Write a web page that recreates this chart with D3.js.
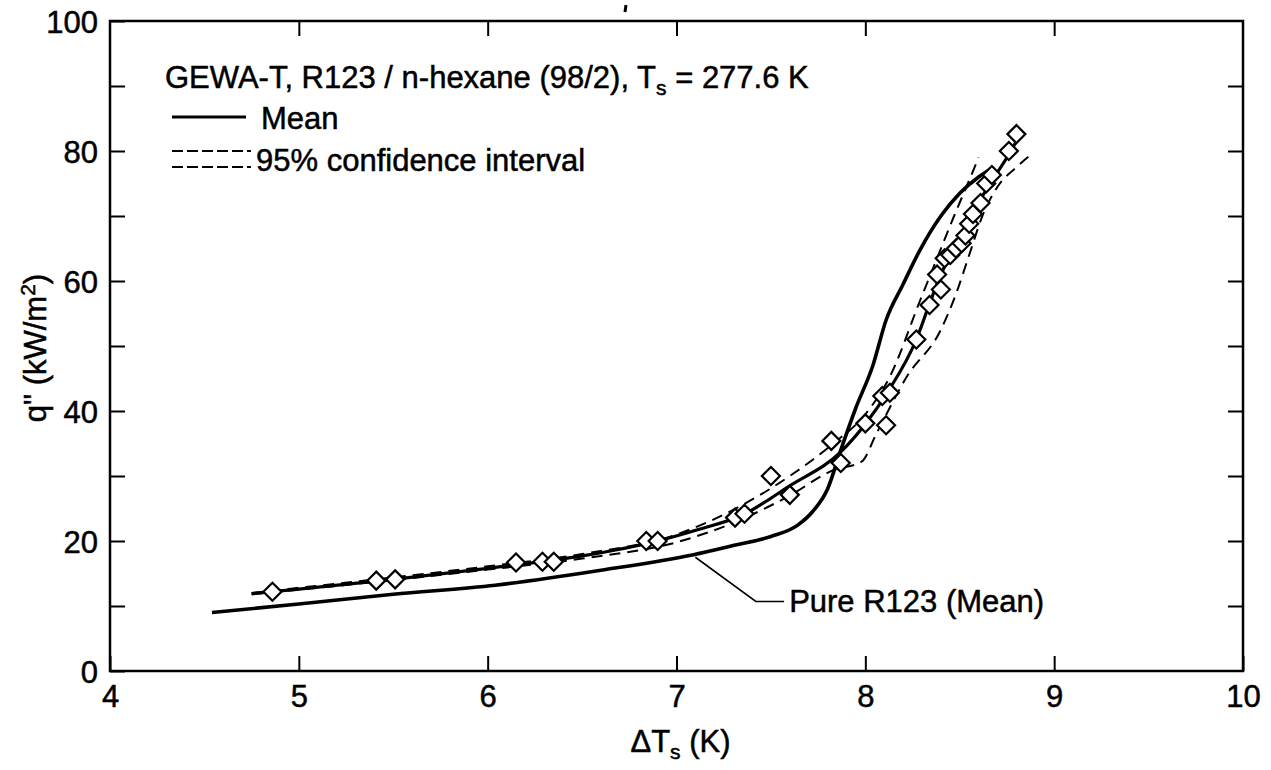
<!DOCTYPE html>
<html><head><meta charset="utf-8">
<script src="https://cdnjs.cloudflare.com/ajax/libs/d3/7.8.5/d3.min.js"></script>
<style>
html,body{margin:0;padding:0;background:#fff;}
svg text{font-family:"Liberation Sans",Arial,Helvetica,sans-serif;fill:#000;stroke:#000;stroke-width:0.5px;}
</style></head>
<body><svg id="c" width="1271" height="770"></svg>
<script>
// ---- data ----
const xTicks = [4,5,6,7,8,9,10];
const yTicks = [0,20,40,60,80,100];
const yMinor = [10,30,50,70,90];
const meanCurve = [[4.75,11.9],[5.0,12.6],[5.5,14.1],[6.0,15.8],[6.5,17.7],[6.9,20.0],[7.12,21.8],[7.35,24.0],[7.6,28.5],[7.87,33.7],[8.0,38.0],[8.12,43.0],[8.27,51.0],[8.34,56.5],[8.4,61.0],[8.47,65.0],[8.55,69.5],[8.65,74.5],[8.75,79.0],[8.82,82.5]];
const ciUpper = [[4.75,12.0],[5.0,12.8],[5.5,14.4],[6.0,16.1],[6.5,18.0],[7.0,21.0],[7.34,25.4],[7.6,30.0],[7.83,35.0],[8.0,39.5],[8.13,45.3],[8.29,57.0],[8.38,63.5],[8.47,70.0],[8.55,75.5],[8.6,79.0]];
const ciLower = [[4.75,11.8],[5.0,12.5],[5.5,14.0],[6.0,15.6],[6.5,17.3],[7.0,19.8],[7.35,23.4],[7.6,27.0],[7.83,30.9],[7.98,32.2],[8.06,36.6],[8.22,45.3],[8.4,52.5],[8.48,58.0],[8.55,64.0],[8.62,70.0],[8.7,74.5],[8.8,77.5],[8.88,79.5]];
const pureR123 = [[4.54,9.0],[5.0,10.3],[5.5,11.8],[6.04,13.2],[6.6,15.5],[7.09,17.9],[7.3,19.3],[7.5,20.7],[7.64,22.4],[7.72,24.5],[7.8,28.0],[7.87,34.0],[7.95,40.5],[8.04,47.0],[8.11,54.0],[8.2,59.5],[8.29,64.8],[8.4,70.0],[8.5,73.5],[8.6,76.0],[8.68,77.5]];
const pointsX = [4.86,5.41,5.51,6.15,6.29,6.35,6.84,6.90,7.31,7.36,7.50,7.60,7.82,7.87,8.00,8.09,8.13,8.11,8.27,8.34,8.38,8.40,8.42,8.45,8.48,8.51,8.53,8.55,8.57,8.61,8.64,8.67,8.76,8.80];
const pointsY = [12.2,13.9,14.1,16.7,16.8,16.8,20.0,20.0,23.6,24.2,30.0,27.1,35.4,32.0,38.1,42.3,42.8,37.8,51.0,56.3,61.0,58.7,63.5,64.0,65.0,65.8,67.0,68.8,70.3,72.0,75.0,76.3,80.0,82.6];
const annotLeader = [[7.10,17.5],[7.42,10.7],[7.57,10.7]];
const titleMain = "GEWA-T, R123 / n-hexane (98/2), T";
const titleSub = "s";
const titleEnd = " = 277.6 K";
const legendMean = "Mean";
const legendCI = "95% confidence interval";
const annotText = "Pure R123 (Mean)";

// ---- layout ----
const svg = d3.select("#c");
const L = 110, R = 1243, T = 21, B = 671;
const x = d3.scaleLinear().domain([4,10]).range([L,R]);
const y = d3.scaleLinear().domain([0,100]).range([B,T]);
const tickLen = 15;
const fs = 31;
const fsSub = 21;

// frame
svg.append("rect").attr("x",L).attr("y",T).attr("width",R-L).attr("height",B-T)
  .attr("fill","none").attr("stroke","#000").attr("stroke-width",2.5);

// axes via d3
const axB = d3.axisBottom(x).tickValues(xTicks).tickSize(-tickLen).tickPadding(14).tickFormat(d3.format("d"));
const gB = svg.append("g").attr("transform",`translate(0,${B})`).call(axB);
const axT = d3.axisTop(x).tickValues(xTicks.slice(1,-1)).tickSize(-tickLen).tickFormat("");
const gT = svg.append("g").attr("transform",`translate(0,${T})`).call(axT);
const axL = d3.axisLeft(y).tickValues(yTicks.concat(yMinor)).tickSize(-tickLen).tickPadding(12)
  .tickFormat(d => yTicks.includes(d) ? d : "");
const gL = svg.append("g").attr("transform",`translate(${L},0)`).call(axL);
const axR = d3.axisRight(y).tickValues(yTicks.slice(1,-1).concat(yMinor)).tickSize(-tickLen).tickFormat("");
const gR = svg.append("g").attr("transform",`translate(${R},0)`).call(axR);
[gB,gT,gL,gR].forEach(g=>{
  g.select(".domain").remove();
  g.selectAll(".tick line").attr("stroke","#000").attr("stroke-width",2);
  g.selectAll(".tick text").attr("font-size",fs).attr("fill","#000")
   .attr("font-family",'"Liberation Sans",Arial,sans-serif');
});
gL.selectAll(".tick text").attr("dy","0.36em");

// axis titles
const xl = svg.append("text").attr("x",(L+R)/2+4).attr("y",752).attr("text-anchor","middle").attr("font-size",fs);
xl.append("tspan").text("\u0394T");
xl.append("tspan").text("s").attr("font-size",fsSub).attr("dy",7);
xl.append("tspan").text(" (K)").attr("dy",-7);
const yl = svg.append("text").attr("transform",`translate(46,${(T+B)/2+2}) rotate(-90)`).attr("text-anchor","middle").attr("font-size",fs);
yl.append("tspan").text("q\" (kW/m");
yl.append("tspan").text("2").attr("font-size",fsSub).attr("dy",-11);
yl.append("tspan").text(")").attr("dy",11);

// curves
const line = d3.line().x(d=>x(d[0])).y(d=>y(d[1])).curve(d3.curveMonotoneX);
svg.append("path").attr("d",line(pureR123)).attr("fill","none").attr("stroke","#000").attr("stroke-width",3.6);
svg.append("path").attr("d",line(ciUpper)).attr("fill","none").attr("stroke","#000").attr("stroke-width",2).attr("stroke-dasharray","11,7");
svg.append("path").attr("d",line(ciLower)).attr("fill","none").attr("stroke","#000").attr("stroke-width",2).attr("stroke-dasharray","11,7");
svg.append("path").attr("d",line(meanCurve)).attr("fill","none").attr("stroke","#000").attr("stroke-width",3.2);

// annotation
svg.append("path").attr("d",d3.line().x(d=>x(d[0])).y(d=>y(d[1]))(annotLeader)).attr("fill","none").attr("stroke","#000").attr("stroke-width",1.6);
svg.append("text").attr("x",x(annotLeader[2][0])+5).attr("y",y(annotLeader[2][1])+11).attr("font-size",fs).text(annotText);

// points
const pts = pointsX.map((v,i)=>[v,pointsY[i]]);
svg.append("g").selectAll("path").data(pts).join("path")
  .attr("transform",d=>`translate(${x(d[0])},${y(d[1])})`)
  .attr("d","M0,-9L9,0L0,9L-9,0Z").attr("fill","#fff").attr("stroke","#000").attr("stroke-width",2.2);

// title + legend
const tt = svg.append("text").attr("x",165).attr("y",88).attr("font-size",fs);
tt.append("tspan").text(titleMain);
tt.append("tspan").text(titleSub).attr("font-size",fsSub).attr("dy",7);
tt.append("tspan").text(titleEnd).attr("dy",-7);
svg.append("line").attr("x1",172).attr("x2",246).attr("y1",117).attr("y2",117).attr("stroke","#000").attr("stroke-width",3.2);
svg.append("text").attr("x",261).attr("y",129).attr("font-size",fs).text(legendMean);
[151,167].forEach(yy=>svg.append("line").attr("x1",172).attr("x2",251).attr("y1",yy).attr("y2",yy)
  .attr("stroke","#000").attr("stroke-width",1.8).attr("stroke-dasharray","11,4"));
svg.append("text").attr("x",256).attr("y",171).attr("font-size",fs).text(legendCI);
// small stray scan mark above the frame
svg.append("path").attr("d","M626,5L625,12").attr("stroke","#000").attr("stroke-width",3);
</script></body></html>
